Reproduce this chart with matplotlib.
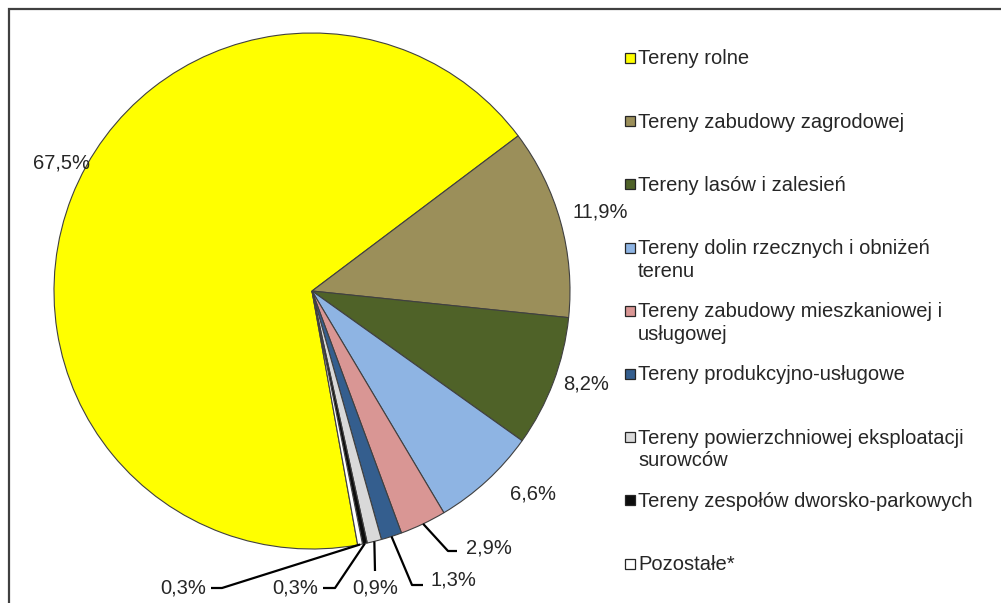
import numpy as np
import matplotlib.pyplot as plt
from matplotlib.patches import Rectangle

plt.rcParams['font.family'] = ['Liberation Sans', 'DejaVu Sans']

# --- data ---
categories = [
    "Tereny rolne",
    "Tereny zabudowy zagrodowej",
    "Tereny lasów i zalesień",
    "Tereny dolin rzecznych i obniżeń\nterenu",
    "Tereny zabudowy mieszkaniowej i\nusługowej",
    "Tereny produkcyjno-usługowe",
    "Tereny powierzchniowej eksploatacji\nsurowców",
    "Tereny zespołów dworsko-parkowych",
    "Pozostałe*",
]
shares = [67.5, 11.9, 8.2, 6.6, 2.9, 1.3, 0.9, 0.3, 0.3]
pct_labels = ["67,5%", "11,9%", "8,2%", "6,6%", "2,9%", "1,3%", "0,9%", "0,3%", "0,3%"]
colors = ["#FFFF00", "#9B8F5A", "#4F6228", "#8EB4E3", "#D99694",
          "#345E8E", "#D9D9D9", "#0D0D0D", "#FFFFFF"]

W, H = 1001, 603
txt_color = "#262626"


def Y(y):
    # image pixel row -> data y
    return H - y


fig = plt.figure(figsize=(W / 100, H / 100), dpi=100)
ax = fig.add_axes([0, 0, 1, 1])

cx, cy, r = 312, Y(291), 258
wedges, _ = ax.pie(shares, colors=colors, startangle=-79.8, counterclock=False,
                   center=(cx, cy), radius=r,
                   wedgeprops=dict(edgecolor="#404040", linewidth=0.8))
ax.set_xlim(0, W)
ax.set_ylim(0, H)
ax.set_aspect("equal")
ax.axis("off")

# label layout (image pixel coords): text centre, leader-line bends
label_pos = [(61, 163), (600, 212), (586, 384), (533, 494), (489, 548),
             (453, 580), (375, 588), (295, 588), (183, 588)]
leaders = [None, None, None, None,
           [(448, 551), (457, 551)],
           [(412, 585), (423, 585)],
           [(375, 571)],
           [(335, 588), (323, 588)],
           [(222, 588), (211, 588)]]

for w, s, pos, lead in zip(wedges, pct_labels, label_pos, leaders):
    if lead is not None:
        mid = np.deg2rad((w.theta1 + w.theta2) / 2)
        xs = [cx + r * np.cos(mid)] + [p[0] for p in lead]
        ys = [cy + r * np.sin(mid)] + [Y(p[1]) for p in lead]
        ax.plot(xs, ys, color="black", lw=1.6, solid_capstyle="butt")
    ax.text(pos[0], Y(pos[1]), s, ha="center", va="center",
            fontsize=14.5, color=txt_color)

# legend drawn by hand to keep even row spacing
for i, (lab, col) in enumerate(zip(categories, colors)):
    yc = 58 + 63.2 * i
    ax.add_patch(Rectangle((624.5, Y(yc + 5)), 10, 10, facecolor=col,
                           edgecolor="#262626", lw=0.9))
    for k, line in enumerate(lab.split("\n")):
        ax.text(638, Y(yc + 6.5 + 22.5 * k), line, ha="left", va="baseline",
                fontsize=14.5, color=txt_color)

# outer frame (runs off the right and bottom edges)
ax.add_patch(Rectangle((9, -20), 1020, Y(9) + 20, fill=False,
                       edgecolor="#404040", lw=1.6, clip_on=False))

fig.savefig("out.png", dpi=100)
